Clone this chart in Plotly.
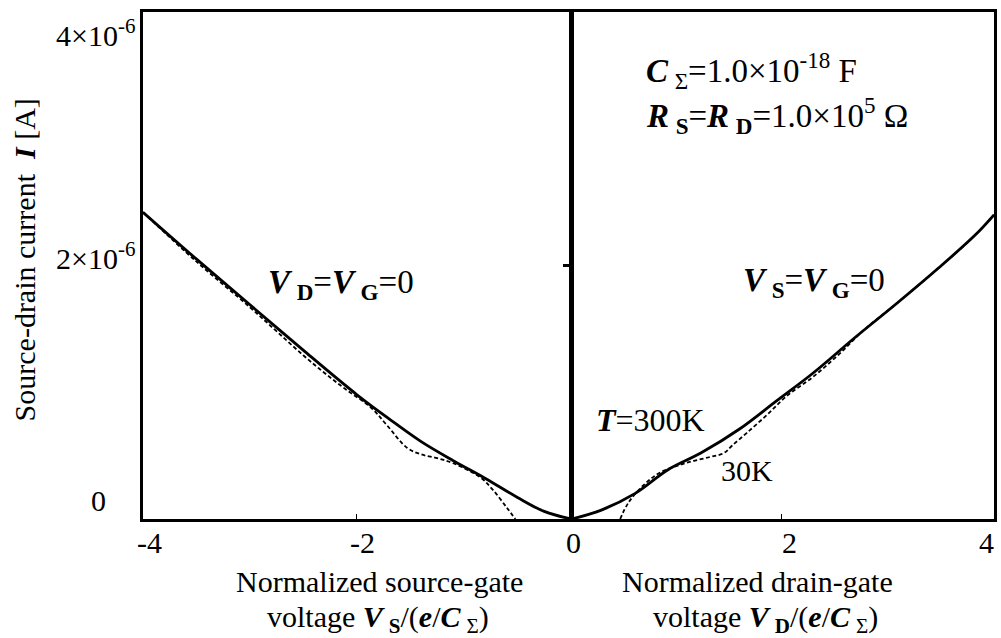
import plotly.graph_objects as go
from plotly.subplots import make_subplots

# ---- data (current in units of 1e-6 A) ----
vs_300 = [-4.0, -3.5, -3.0, -2.5, -2.0, -1.7, -1.4, -1.1, -0.8, -0.5, -0.25, 0.0]
is_300 = [2.42, 2.05, 1.69, 1.33, 0.98, 0.79, 0.61, 0.46, 0.32, 0.17, 0.06, 0.0]
vs_30 = [-4.0, -3.5, -3.0, -2.75, -2.5, -2.3, -2.1, -1.87, -1.72, -1.53, -1.40, -1.25, -1.10, -0.85, -0.73, -0.60, -0.52]
is_30 = [2.42, 2.03, 1.67, 1.48, 1.29, 1.15, 1.02, 0.88, 0.74, 0.56, 0.51, 0.48, 0.44, 0.33, 0.23, 0.09, 0.0]

vd_300 = [0.0, 0.28, 0.60, 0.92, 1.23, 1.60, 1.95, 2.30, 2.70, 3.10, 3.50, 3.85, 4.03]
id_300 = [0.0, 0.07, 0.20, 0.39, 0.52, 0.71, 0.93, 1.15, 1.43, 1.70, 1.98, 2.24, 2.40]
vd_30 = [0.46, 0.54, 0.70, 0.85, 1.08, 1.32, 1.45, 1.53, 1.67, 1.86, 2.05, 2.30, 2.55, 2.80, 3.10, 3.50, 3.85, 4.03]
id_30 = [0.0, 0.13, 0.28, 0.37, 0.44, 0.49, 0.52, 0.58, 0.68, 0.82, 0.97, 1.12, 1.30, 1.50, 1.70, 1.98, 2.24, 2.40]

scale = 1e-6
FONT = "Liberation Serif"
FS = 30
FS_IN = 33
TS = "\u2009"  # thin space before subscripts

fig = make_subplots(rows=1, cols=2, shared_yaxes=True, horizontal_spacing=0)

solid = dict(color="black", width=2.8)
dashed = dict(color="black", width=1.8, dash="4px,2.5px")

fig.add_trace(go.Scatter(x=vs_30, y=[v * scale for v in is_30], mode="lines", line=dashed,
                         line_shape="spline", showlegend=False), row=1, col=1)
fig.add_trace(go.Scatter(x=vs_300, y=[v * scale for v in is_300], mode="lines", line=solid,
                         line_shape="spline", showlegend=False), row=1, col=1)
fig.add_trace(go.Scatter(x=vd_30, y=[v * scale for v in id_30], mode="lines", line=dashed,
                         line_shape="spline", showlegend=False), row=1, col=2)
fig.add_trace(go.Scatter(x=vd_300, y=[v * scale for v in id_300], mode="lines", line=solid,
                         line_shape="spline", showlegend=False), row=1, col=2)

L, R, T, B = 143, 997, 12, 519
W, H = R - L, B - T
mid = 573
d1 = (mid - L) / W

fig.update_layout(
    width=1001, height=638,
    margin=dict(l=L, r=1001 - R, t=T, b=638 - B),
    paper_bgcolor="white", plot_bgcolor="white",
    font=dict(family=FONT, size=FS, color="black"),
    showlegend=False,
)
fig.update_xaxes(row=1, col=1, domain=[0, d1 - 0.0006], range=[-4, 0],
                 showline=True, linecolor="black", linewidth=3, mirror=True,
                 showgrid=False, zeroline=False, ticks="inside", ticklen=5,
                 tickcolor="black", tickvals=[-2], showticklabels=False)
fig.update_xaxes(row=1, col=2, domain=[d1 + 0.0006, 1], range=[0, 4.03],
                 showline=True, linecolor="black", linewidth=3, mirror=True,
                 showgrid=False, zeroline=False, ticks="inside", ticklen=5,
                 tickcolor="black", tickvals=[2], showticklabels=False)
fig.update_yaxes(row=1, col=1, range=[0, 4e-6], showline=True, linecolor="black",
                 linewidth=3, mirror=True, showgrid=False, zeroline=False,
                 ticks="", showticklabels=False)
fig.update_yaxes(row=1, col=2, range=[0, 4e-6], showline=True, linecolor="black",
                 linewidth=3, mirror=True, showgrid=False, zeroline=False,
                 ticks="outside", ticklen=6, tickwidth=2.5, tickcolor="black",
                 tickvals=[2e-6], showticklabels=False)


def px(x):
    return (x - L) / W


def py(y):
    return (B - y) / H


ann = []
# y tick labels
ytick_text = ["4×10<sup>-6</sup>", "2×10<sup>-6</sup>", "0"]
ytick_pos = [(137, 33), (137, 256), (108, 500)]
for t, (xx, yy) in zip(ytick_text, ytick_pos):
    ann.append(dict(text=t, xref="paper", yref="paper", x=px(xx), y=py(yy),
                    xanchor="right", yanchor="middle", showarrow=False))
# x tick labels
xtick_text = ["-4", "-2", "0", "2", "4"]
xtick_pos = [150, 363, 575, 792, 989]
for t, xx in zip(xtick_text, xtick_pos):
    ann.append(dict(text=t, xref="paper", yref="paper", x=px(xx), y=py(542),
                    xanchor="center", yanchor="middle", showarrow=False))

# axis titles
ann.append(dict(text="Source-drain current  <b><i>I</i></b> [A]", xref="paper", yref="paper",
                x=px(24), y=py(260), textangle=-90, xanchor="center", yanchor="middle",
                showarrow=False))
ann.append(dict(text="Normalized source-gate", xref="paper", yref="paper",
                x=px(380), y=py(581), xanchor="center", yanchor="middle", showarrow=False))
ann.append(dict(text=f"voltage <b><i>V</i></b>{TS}<sub><b>S</b></sub>/(<b><i>e</i></b>/<b><i>C</i></b>{TS}<sub>Σ</sub>)",
                xref="paper", yref="paper", x=px(379), y=py(619), xanchor="center",
                yanchor="middle", showarrow=False))
ann.append(dict(text="Normalized drain-gate", xref="paper", yref="paper",
                x=px(760), y=py(581), xanchor="center", yanchor="middle", showarrow=False))
ann.append(dict(text=f"voltage <b><i>V</i></b>{TS}<sub><b>D</b></sub>/(<b><i>e</i></b>/<b><i>C</i></b>{TS}<sub>Σ</sub>)",
                xref="paper", yref="paper", x=px(768), y=py(619), xanchor="center",
                yanchor="middle", showarrow=False))

# in-plot text
inf = dict(family=FONT, size=FS_IN, color="black")
ann.append(dict(text=f"<b><i>C</i></b>{TS}<sub>Σ</sub>=1.0×10<sup>-18</sup> F", xref="paper", yref="paper",
                x=px(646), y=py(70), xanchor="left", yanchor="middle", showarrow=False, font=inf))
ann.append(dict(text=f"<b><i>R</i></b>{TS}<sub><b>S</b></sub>=<b><i>R</i></b>{TS}<sub><b>D</b></sub>=1.0×10<sup>5</sup> Ω",
                xref="paper", yref="paper", x=px(646), y=py(115), xanchor="left",
                yanchor="middle", showarrow=False, font=inf))
ann.append(dict(text=f"<b><i>V</i></b>{TS}<sub><b>D</b></sub>=<b><i>V</i></b>{TS}<sub><b>G</b></sub>=0",
                xref="paper", yref="paper", x=px(266), y=py(284), xanchor="left",
                yanchor="middle", showarrow=False, font=inf))
ann.append(dict(text=f"<b><i>V</i></b>{TS}<sub><b>S</b></sub>=<b><i>V</i></b>{TS}<sub><b>G</b></sub>=0",
                xref="paper", yref="paper", x=px(743), y=py(282), xanchor="left",
                yanchor="middle", showarrow=False, font=inf))
ann.append(dict(text="<b><i>T</i></b>=300K", xref="paper", yref="paper",
                x=px(596), y=py(420), xanchor="left", yanchor="middle", showarrow=False,
                font=dict(family=FONT, size=32, color="black")))
ann.append(dict(text="30K", xref="paper", yref="paper",
                x=px(721), y=py(470), xanchor="left", yanchor="middle", showarrow=False))

fig.update_layout(annotations=ann)
fig.write_html("out.html")
